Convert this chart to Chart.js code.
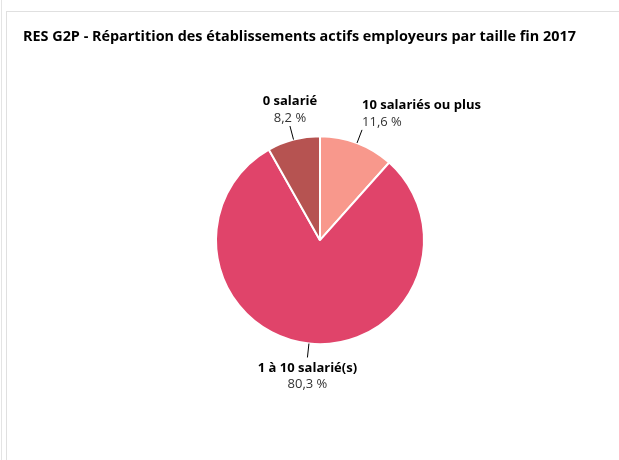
<!DOCTYPE html>
<html lang="fr">
<head>
  <meta charset="UTF-8">
  <title>RES G2P</title>
  <script src="https://cdn.jsdelivr.net/npm/chart.js"></script>
  <style>
    html, body {
      margin: 0;
      padding: 0;
      background: #fff;
      width: 619px;
      height: 460px;
      overflow: hidden;
      font-family: "Open Sans", sans-serif;
    }
    #outer {
      position: absolute;
      left: 1px;
      top: 0;
      width: 700px;
      height: 470px;
      border-left: 1px solid #e4e4e4;
    }
    #card {
      position: absolute;
      left: 6px;
      top: 11px;
      width: 700px;
      height: 460px;
      border-left: 1px solid #e0e0e0;
      border-top: 1px solid #e0e0e0;
    }
    #wrap {
      position: absolute;
      left: 0;
      top: 0;
      width: 612px;
      height: 448px;
    }
  </style>
</head>
<body>
<div id="outer"></div>
<div id="card">
  <div id="wrap"><canvas id="pie"></canvas></div>
</div>
<script>
  const categories = ['10 salariés ou plus', '1 à 10 salarié(s)', '0 salarié'];
  const shares = [11.6, 80.3, 8.2];
  const colours = ['#f8988c', '#e0446a', '#b65351'];

  const fmt = v => v.toFixed(1).replace('.', ',') + ' %';

  // outside labels with a short leader line
  const outsideLabels = {
    id: 'outsideLabels',
    afterDatasetsDraw(chart) {
      const ctx = chart.ctx;
      const meta = chart.getDatasetMeta(0);
      ctx.save();
      meta.data.forEach((arc, i) => {
        const p = arc.getProps(['x', 'y', 'startAngle', 'endAngle', 'outerRadius'], true);
        const mid = (p.startAngle + p.endAngle) / 2;
        const cos = Math.cos(mid), sin = Math.sin(mid);
        const r0 = p.outerRadius, r1 = p.outerRadius + 14;
        const x1 = p.x + cos * r1, y1 = p.y + sin * r1;
        ctx.strokeStyle = '#000';
        ctx.lineWidth = 1;
        ctx.beginPath();
        ctx.moveTo(p.x + cos * r0, p.y + sin * r0);
        ctx.lineTo(x1, y1);
        ctx.stroke();

        let align = 'center';
        if (cos > 0.3) align = 'left';
        else if (cos < -0.3) align = 'right';
        ctx.textAlign = align;
        ctx.textBaseline = 'middle';
        let yName, yPct;
        if (sin < 0) {
          yPct = y1 - 8;
          yName = yPct - 16.5;
        } else {
          yName = y1 + 11;
          yPct = yName + 15.5;
        }
        ctx.fillStyle = '#000';
        ctx.font = 'bold 13px "Open Sans"';
        ctx.fillText(categories[i], x1, yName);
        ctx.fillStyle = '#333';
        ctx.font = '13px "Open Sans"';
        ctx.fillText(fmt(shares[i]), x1, yPct);
      });
      ctx.restore();
    }
  };

  new Chart(document.getElementById('pie'), {
    type: 'pie',
    data: {
      labels: categories,
      datasets: [{
        data: shares,
        backgroundColor: colours,
        borderColor: '#fff',
        borderWidth: 2
      }]
    },
    options: {
      responsive: true,
      maintainAspectRatio: false,
      animation: false,
      radius: 104,
      layout: { padding: { left: 16, right: 2, top: 0, bottom: 42 } },
      plugins: {
        legend: { display: false },
        tooltip: { enabled: false },
        title: {
          display: true,
          text: 'RES G2P - Répartition des établissements actifs employeurs par taille fin 2017',
          align: 'start',
          color: '#000',
          font: { family: 'Open Sans', size: 14.4, weight: 'bold', lineHeight: 1.2 },
          padding: { top: 16, bottom: 17 }
        }
      }
    },
    plugins: [outsideLabels]
  });
</script>
</body>
</html>
